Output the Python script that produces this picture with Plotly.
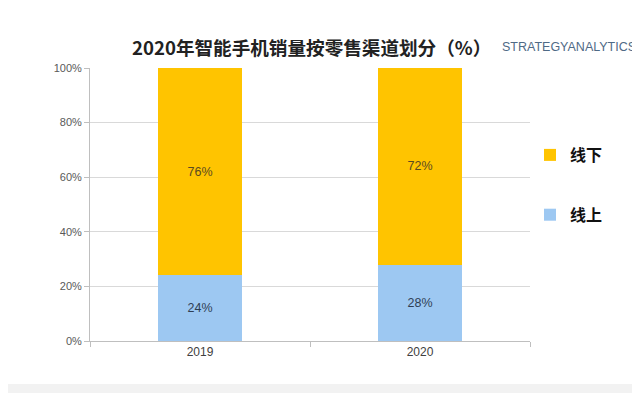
import plotly.graph_objects as go

years = ["2019", "2020"]
online = [24, 28]
offline = [76, 72]
series_names = ["线上", "线下"]
title_text = "2020年智能手机销量按零售渠道划分（%）"
brand_text = "STRATEGYANALYTICS"
y_ticks = [0, 20, 40, 60, 80, 100]
y_tick_labels = ["0%", "20%", "40%", "60%", "80%", "100%"]

# the page body adds an 8px offset; work in screen pixels and subtract it
OFF = 8
W, H = 640 - OFF, 393 - OFF
L, R, T, B = 90 - OFF, W - (530 - OFF), 68 - OFF, H - (341 - OFF)
pw, ph = W - L - R, H - T - B

def px_x(p):
    return (p - OFF - L) / pw

def px_y(p):
    return (H - B - (p - OFF)) / ph

fig = go.Figure()
fig.add_trace(go.Bar(
    x=years, y=online, name=series_names[0], legendgroup="a", legendrank=2,
    marker=dict(color="#9DC8F2", line=dict(width=0)),
    text=[f"{v}%" for v in online], textposition="inside", insidetextanchor="middle",
    textfont=dict(color="#2F3F55", size=12.5, family="Liberation Sans, Arial"),
    width=0.38,
))
fig.add_trace(go.Bar(
    x=years, y=offline, name=series_names[1], legendgroup="b", legendrank=1,
    marker=dict(color="#FFC400", line=dict(width=0)),
    text=[f"{v}%" for v in offline], textposition="inside", insidetextanchor="middle",
    textfont=dict(color="#5A4A20", size=12.5, family="Liberation Sans, Arial"),
    width=0.38,
))

fig.update_layout(
    width=W, height=H,
    margin=dict(l=L, r=R, t=T, b=B, autoexpand=False),
    barmode="stack",
    paper_bgcolor="white", plot_bgcolor="white",
    showlegend=True,
    legend=dict(
        x=px_x(530), y=px_y(138), xanchor="left", yanchor="top",
        traceorder="grouped", tracegroupgap=36,
        font=dict(size=16, color="#111111", family="Noto Sans CJK SC", weight="bold"),
        itemsizing="constant", bgcolor="rgba(0,0,0,0)",
    ),
    font=dict(family="Liberation Sans, Arial", color="#595959"),
    xaxis=dict(
        type="category", range=[-0.5, 1.5],
        showline=True, linecolor="#BFBFBF", linewidth=1,
        ticks="outside", tickson="boundaries", ticklen=5, tickcolor="#BFBFBF",
        tickfont=dict(size=12, color="#404040"),
        showgrid=False, fixedrange=True,
    ),
    yaxis=dict(
        range=[0, 100], tickvals=y_ticks, ticktext=y_tick_labels,
        showline=True, linecolor="#BFBFBF", linewidth=1,
        ticks="outside", ticklen=5, tickcolor="#BFBFBF",
        showgrid=True, gridcolor="#D9D9D9", gridwidth=1,
        zeroline=False,
        tickfont=dict(size=11, color="#595959"),
    ),
    shapes=[dict(
        type="rect", xref="paper", yref="paper",
        x0=px_x(0), x1=px_x(640), y0=px_y(393), y1=px_y(384),
        fillcolor="#F2F2F2", line=dict(width=0), layer="below",
    )],
    annotations=[
        dict(text=f"<b>{title_text}</b>", xref="paper", yref="paper",
             x=px_x(311), y=px_y(46), xanchor="center", yanchor="middle",
             showarrow=False, font=dict(size=18.6, color="#222222", family="Noto Sans CJK SC")),
        dict(text=brand_text, xref="paper", yref="paper",
             x=px_x(569), y=px_y(47), xanchor="center", yanchor="middle",
             showarrow=False, font=dict(size=12.5, color="#4F6A86", family="Liberation Sans Narrow, Liberation Sans, Arial")),
    ],
)

fig.write_html("out.html")
